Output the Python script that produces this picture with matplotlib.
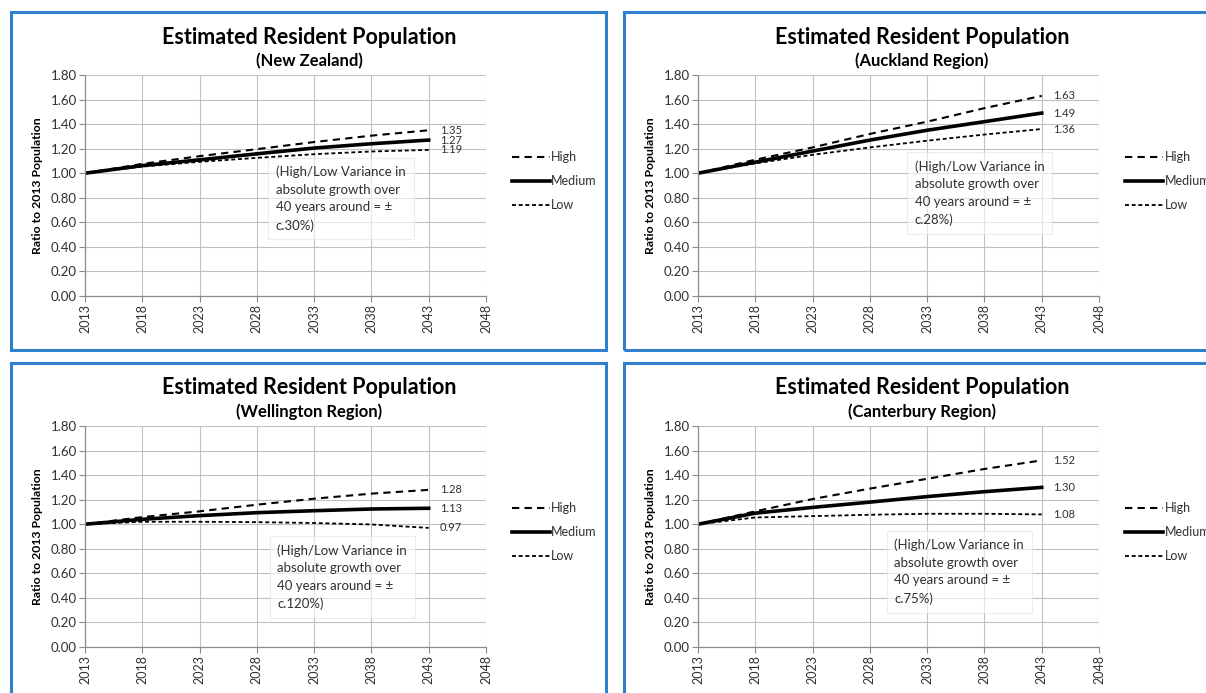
import numpy as np
import matplotlib
matplotlib.use('Agg')
import matplotlib.pyplot as plt
from matplotlib.patches import Rectangle

plt.rcParams['font.family'] = ['Lato', 'DejaVu Sans']

W, H = 1206, 693

# Projection years and ratios to the 2013 population
years = [2013, 2018, 2023, 2028, 2033, 2038, 2043]

nz_high = [1.00, 1.076, 1.139, 1.196, 1.254, 1.306, 1.35]
nz_medium = [1.00, 1.062, 1.109, 1.158, 1.205, 1.240, 1.27]
nz_low = [1.00, 1.054, 1.093, 1.125, 1.155, 1.177, 1.19]

akl_high = [1.00, 1.11, 1.21, 1.32, 1.42, 1.53, 1.63]
akl_medium = [1.00, 1.09, 1.18, 1.27, 1.35, 1.42, 1.49]
akl_low = [1.00, 1.08, 1.15, 1.21, 1.265, 1.315, 1.36]

wgtn_high = [1.00, 1.058, 1.105, 1.159, 1.208, 1.249, 1.28]
wgtn_medium = [1.00, 1.04, 1.07, 1.094, 1.11, 1.124, 1.13]
wgtn_low = [1.00, 1.02, 1.02, 1.017, 1.01, 0.998, 0.97]

cant_high = [1.00, 1.105, 1.205, 1.29, 1.37, 1.45, 1.52]
cant_medium = [1.00, 1.09, 1.137, 1.18, 1.225, 1.265, 1.30]
cant_low = [1.00, 1.055, 1.066, 1.077, 1.085, 1.085, 1.08]

regions = ['(New Zealand)', '(Auckland Region)', '(Wellington Region)', '(Canterbury Region)']
variances = ['c.30%)', 'c.28%)', 'c.120%)', 'c.75%)']

x_ticks = [2013, 2018, 2023, 2028, 2033, 2038, 2043, 2048]
y_ticks = [0.0, 0.2, 0.4, 0.6, 0.8, 1.0, 1.2, 1.4, 1.6, 1.8]

BLUE = '#2f7fcf'
GRID = '#c0c0c0'
AXIS = '#8c8c8c'
TXT = '#303030'


def fx(x):
    return x / W


def fy(y):
    return 1 - y / H


def draw_panel(fig, left, top, region, high, medium, low, variance, box_xy):
    # blue frame round each chart
    fig.add_artist(Rectangle((fx(left), fy(top + 338)), 595 / W, 338 / H,
                             transform=fig.transFigure, fill=False,
                             ec=BLUE, lw=2.2, clip_on=False))

    fig.text(fx(left + 298), fy(top + 25), 'Estimated Resident Population',
             ha='center', va='center', fontsize=15.5, fontweight='bold', color='black')
    fig.text(fx(left + 298), fy(top + 49), region,
             ha='center', va='center', fontsize=12, fontweight='bold', color='black')

    ax = fig.add_axes([fx(left + 74), fy(top + 284), 401 / W, 221 / H])
    ax.set_xlim(2013, 2048)
    ax.set_ylim(0, 1.8)
    ax.set_xticks(x_ticks)
    ax.set_yticks(y_ticks)
    ax.set_xticklabels([str(t) for t in x_ticks], rotation=90, fontsize=9, color=TXT)
    ax.set_yticklabels(['%.2f' % t for t in y_ticks], fontsize=9.5, color=TXT)
    ax.grid(True, color=GRID, lw=0.8)
    ax.set_axisbelow(True)
    for s in ['top', 'right']:
        ax.spines[s].set_visible(False)
    for s in ['left', 'bottom']:
        ax.spines[s].set_color(AXIS)
        ax.spines[s].set_linewidth(0.9)
    ax.tick_params(axis='both', color=AXIS, length=4, width=0.8, pad=2)
    ax.set_ylabel('Ratio to 2013 Population', fontsize=8.8, fontweight='bold',
                  color='black', labelpad=5)

    lh, = ax.plot(years, high, color='black', lw=1.5, dashes=(3.5, 2.5), label='High')
    lm, = ax.plot(years, medium, color='black', lw=2.6, label='Medium')
    ll, = ax.plot(years, low, color='black', lw=1.3, dashes=(2.2, 1.5), label='Low')

    for series in (high, medium, low):
        ax.annotate('%.2f' % series[-1], (years[-1], series[-1]),
                    xytext=(8, 0), textcoords='offset points',
                    va='center', ha='left', fontsize=8, color=TXT)

    note = '(High/Low Variance in\nabsolute growth over\n40 years around = \u00b1\n' + variance
    ax.text(box_xy[0], box_xy[1], note, transform=ax.transAxes, ha='left', va='top',
            fontsize=9.5, color=TXT, linespacing=1.55,
            bbox=dict(boxstyle='square,pad=0.6', fc='white', alpha=0.6,
                      ec='#e0e0e0', lw=0.8))

    fig.legend(handles=[lh, lm, ll], loc='center left',
               bbox_to_anchor=(fx(left + 501), fy(top + 169)),
               frameon=False, fontsize=9, handlelength=3.0, handletextpad=0.15,
               labelspacing=0.95, labelcolor=TXT, borderpad=0, borderaxespad=0)
    return ax


fig = plt.figure(figsize=(W / 100, H / 100), dpi=100)

draw_panel(fig, 11, 12, regions[0], nz_high, nz_medium, nz_low, variances[0], (0.476, 0.59))
draw_panel(fig, 624, 12, regions[1], akl_high, akl_medium, akl_low, variances[1], (0.54, 0.615))
draw_panel(fig, 11, 363, regions[2], wgtn_high, wgtn_medium, wgtn_low, variances[2], (0.48, 0.465))
draw_panel(fig, 624, 363, regions[3], cant_high, cant_medium, cant_low, variances[3], (0.49, 0.49))

fig.savefig('out.png', dpi=100)
